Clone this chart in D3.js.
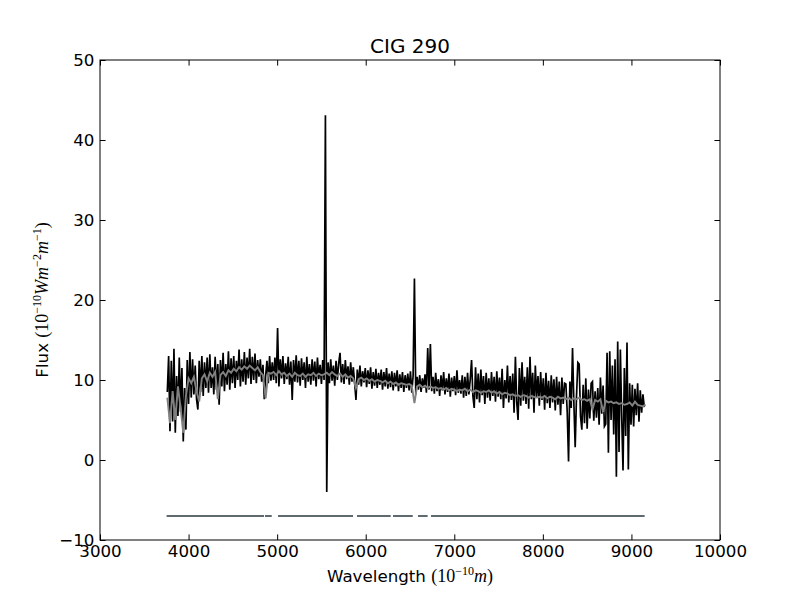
<!DOCTYPE html>
<html lang="en">
<head>
<meta charset="UTF-8">
<title>CIG 290</title>
<script src="https://cdn.jsdelivr.net/npm/d3@7/dist/d3.min.js"></script>
<style>
    body{margin:0;background:#fff}
    text{font-family:"DejaVu Sans",sans-serif}
</style>
</head>
<body>
<div class="chart"></div>
<script>
    // observed flux, one sample every 15 A starting at 3760 A
    let obsStart=3760, obsStep=15
    let obsFlux=[
        8.5,13.0,3.6,12.4,4.8,13.9,3.4,10.5,5.5,12.8,
        6.0,11.5,2.3,9.0,3.8,12.5,7.0,13.5,7.8,12.6,
        8.2,11.8,7.6,6.3,12.4,8.5,13.0,8.0,12.2,9.0,
        12.8,8.4,13.2,9.0,11.6,8.2,12.9,8.8,12.0,6.9,
        12.5,9.2,13.4,8.6,12.0,9.4,13.6,8.8,12.7,9.6,
        13.0,9.0,12.4,10.0,13.8,9.2,12.6,9.8,13.5,9.4,
        12.8,10.2,13.9,9.5,12.9,10.0,13.3,9.6,12.5,10.4,
        12.6,9.8,11.9,7.6,10.5,12.4,9.6,13.0,9.9,12.2,
        10.0,12.8,9.6,16.5,9.2,12.6,10.2,13.0,9.5,12.1,
        10.1,12.9,9.4,12.3,7.5,12.5,9.8,13.1,9.7,12.4,
        9.3,12.7,10.0,12.2,9.0,12.9,9.8,12.0,9.4,12.6,
        9.9,12.3,9.2,12.8,10.1,11.9,9.5,12.5,10.0,43.1,
        -4.0,12.2,9.6,12.6,9.9,11.8,9.3,12.4,10.0,12.1,
        13.4,9.7,12.0,9.5,12.5,10.1,11.7,9.4,12.2,9.8,
        11.6,9.6,7.5,11.3,9.4,11.8,9.2,11.1,9.7,11.5,
        9.1,11.2,9.5,11.6,8.9,11.0,9.3,11.4,9.0,10.9,
        9.4,11.3,8.8,11.0,9.2,11.5,8.9,10.8,9.1,11.1,
        8.7,10.9,9.2,11.2,8.6,10.7,9.0,11.0,8.5,10.6,
        9.0,10.8,8.7,11.1,8.4,10.5,22.7,8.2,10.4,8.8,
        10.6,8.5,10.2,9.0,10.7,8.4,14.0,8.8,14.5,8.6,
        10.4,8.3,10.9,8.6,10.1,8.0,10.6,8.7,11.0,8.2,
        10.2,8.5,10.8,7.9,10.3,8.6,10.5,8.1,11.2,8.4,
        10.0,8.3,10.6,7.8,10.4,8.0,10.9,8.2,10.1,12.5,
        8.0,6.5,11.6,7.6,10.8,7.2,11.3,8.1,10.5,7.0,
        10.9,7.8,10.2,7.4,11.0,8.0,10.4,7.3,11.1,7.9,
        10.3,7.6,11.4,6.5,10.0,7.7,11.8,7.2,10.5,7.5,
        10.8,5.9,12.9,7.2,5.0,11.5,6.8,12.2,7.4,10.4,
        7.0,11.6,6.4,12.9,7.6,10.9,5.9,11.8,7.8,10.5,
        6.8,11.0,7.5,10.2,6.3,10.9,7.1,9.9,6.5,10.6,
        7.2,10.1,6.2,10.4,6.9,9.8,5.6,10.3,7.0,9.6,
        9.5,6.0,-0.2,9.8,6.5,14.0,7.2,1.6,8.0,12.2,
        12.0,5.5,3.8,9.4,4.6,10.2,3.9,8.8,5.2,9.6,
        9.8,4.9,8.6,5.3,9.0,4.4,10.3,5.8,9.3,4.2,
        4.5,13.4,0.9,13.6,5.0,11.8,3.2,12.6,-2.1,14.8,
        1.0,13.8,5.5,-1.3,11.5,3.0,14.7,-1.2,9.6,4.4,
        9.4,4.2,8.9,5.6,9.6,4.8,8.7,5.9,8.2,6.6
    ]
    // fitted flux, one sample every 30 A starting at 3760 A
    let fitStart=3760, fitStep=30
    let fitFlux=[
        7.8,4.6,8.6,5.0,9.2,6.5,3.4,8.0,10.2,9.6,
        10.4,8.6,7.3,10.2,10.7,9.8,10.9,10.4,11.0,7.6,
        10.6,11.0,10.5,11.2,10.9,11.4,11.1,11.6,11.3,11.7,
        11.4,11.8,11.5,11.2,11.6,11.0,10.6,7.7,10.9,10.8,
        11.0,10.6,11.1,10.7,10.9,10.5,10.8,10.4,10.9,10.6,
        10.5,10.8,10.4,10.7,10.6,10.9,10.5,10.8,10.6,10.7,
        10.9,10.6,11.0,10.7,10.5,10.8,10.4,10.7,10.3,10.5,
        10.2,9.0,10.1,10.3,10.0,10.2,9.9,10.1,9.8,10.0,
        9.9,9.7,9.9,9.6,9.8,9.5,9.7,9.4,9.6,9.5,
        9.4,9.5,9.3,7.1,9.2,9.4,9.1,9.3,9.0,9.2,
        9.0,9.1,8.9,9.0,8.8,9.0,8.7,8.9,8.8,8.6,
        8.8,8.7,8.9,8.6,8.8,8.5,8.7,8.6,8.4,8.6,
        8.5,8.7,8.4,8.6,8.3,8.5,8.2,8.4,8.3,8.1,
        8.2,8.0,8.1,7.9,8.1,8.0,7.8,8.0,7.9,7.8,
        7.9,7.8,8.0,7.7,7.9,7.8,7.6,7.9,7.7,7.8,
        7.6,7.8,7.5,7.7,7.6,7.8,7.5,7.6,7.4,7.6,
        6.3,7.5,7.3,7.6,6.0,7.4,7.2,7.3,7.1,7.2,
        7.0,7.1,6.9,7.0,7.2,6.8,7.3,6.9,6.8,6.7,
        6.9
    ]
    // good-pixel mask segments (wavelength ranges) drawn at a fixed level
    let maskStart=[3752,4863,5010,5902,6308,6590,6737]
    let maskEnd=[4852,4939,5857,6282,6531,6699,9149]
    let maskLevel=-7
    let xTicks=[3000,4000,5000,6000,7000,8000,9000,10000]
    let yTicks=[-10,0,10,20,30,40,50]

    let width=800, height=600
    let padL=100, padR=720, padT=60, padB=540
    let x=d3.scaleLinear().domain([3000,10000]).range([padL,padR])
    let y=d3.scaleLinear().domain([-10,50]).range([padB,padT])

    let svg=d3.select('.chart').append('svg').attr('width',width).attr('height',height)
    svg.append('clipPath').attr('id','clip').append('rect')
        .attr('x',padL).attr('y',padT).attr('width',padR-padL).attr('height',padB-padT)

    let plot=svg.append('g').attr('clip-path','url(#clip)')
    let obs=obsFlux.map((f,i)=>[obsStart+i*obsStep,f])
    let fit=fitFlux.map((f,i)=>[fitStart+i*fitStep,f])
    let line=d3.line().x(d=>x(d[0])).y(d=>y(d[1]))

    plot.append('path').datum(obs).attr('d',line)
        .attr('fill','none').attr('stroke','#000').attr('stroke-width',1.7)
    plot.append('path').datum(fit).attr('d',line)
        .attr('fill','none').attr('stroke','#808080').attr('stroke-width',1.9)
    plot.selectAll('.mask').data(maskStart).enter().append('line').attr('class','mask')
        .attr('x1',d=>x(d)).attr('x2',(d,i)=>x(maskEnd[i]))
        .attr('y1',y(maskLevel)).attr('y2',y(maskLevel))
        .attr('stroke','#5e6970').attr('stroke-width',2)

    // axes, ticks pointing inward on all four sides
    let fmt=d3.format('d')
    let minus=d=>fmt(d).replace('-','\u2212')
    let tl=-5.6
    svg.append('g').attr('transform','translate(0,'+padB+')')
        .call(d3.axisBottom(x).tickValues(xTicks).tickFormat(minus).tickSizeInner(tl).tickSizeOuter(0).tickPadding(5))
    svg.append('g').attr('transform','translate(0,'+padT+')')
        .call(d3.axisTop(x).tickValues(xTicks).tickFormat('').tickSizeInner(tl).tickSizeOuter(0))
    svg.append('g').attr('transform','translate('+padL+',0)')
        .call(d3.axisLeft(y).tickValues(yTicks).tickFormat(minus).tickSizeInner(tl).tickSizeOuter(0).tickPadding(5.6))
    svg.append('g').attr('transform','translate('+padR+',0)')
        .call(d3.axisRight(y).tickValues(yTicks).tickFormat('').tickSizeInner(tl).tickSizeOuter(0))
    svg.selectAll('.domain').remove()
    svg.selectAll('.tick line').attr('stroke','#000')
    svg.selectAll('.tick text').attr('font-size','16.7px').attr('fill','#000')
        .style('font-family','"DejaVu Sans",sans-serif')
    svg.append('rect').attr('x',padL).attr('y',padT).attr('width',padR-padL).attr('height',padB-padT)
        .attr('fill','none').attr('stroke','#000').attr('stroke-width',1)

    svg.append('text').attr('x',(padL+padR)/2).attr('y',53).attr('text-anchor','middle')
        .attr('font-size','20px').text('CIG 290')

    // labels with math parts
    function label(t,parts){
        parts.forEach(p=>{
            let s=t.append('tspan').text(p.t)
            if(p.math){s.style('font-family','"Liberation Serif",serif').attr('font-size','18px')}
            if(p.it){s.attr('font-style','italic')}
            if(p.sup){s.attr('font-size','12px').attr('dy',-7)}
            if(p.down){s.attr('dy',7)}
        })
    }
    let xl=svg.append('text').attr('x',(padL+padR)/2).attr('y',582).attr('text-anchor','middle').attr('font-size','16.7px')
    label(xl,[{t:'Wavelength '},{t:'(10',math:true},{t:'\u221210',math:true,sup:true},
        {t:'m',math:true,it:true,down:true},{t:')',math:true}])
    let yl=svg.append('text').attr('transform','translate(48,300) rotate(-90)').attr('text-anchor','middle').attr('font-size','16.7px')
    label(yl,[{t:'Flux '},{t:'(10',math:true},{t:'\u221210',math:true,sup:true},
        {t:'W',math:true,it:true,down:true},{t:'m',math:true,it:true},{t:'\u22122',math:true,sup:true},
        {t:'m',math:true,it:true,down:true},{t:'\u22121',math:true,sup:true},{t:')',math:true,down:true}])
</script>
</body>
</html>
